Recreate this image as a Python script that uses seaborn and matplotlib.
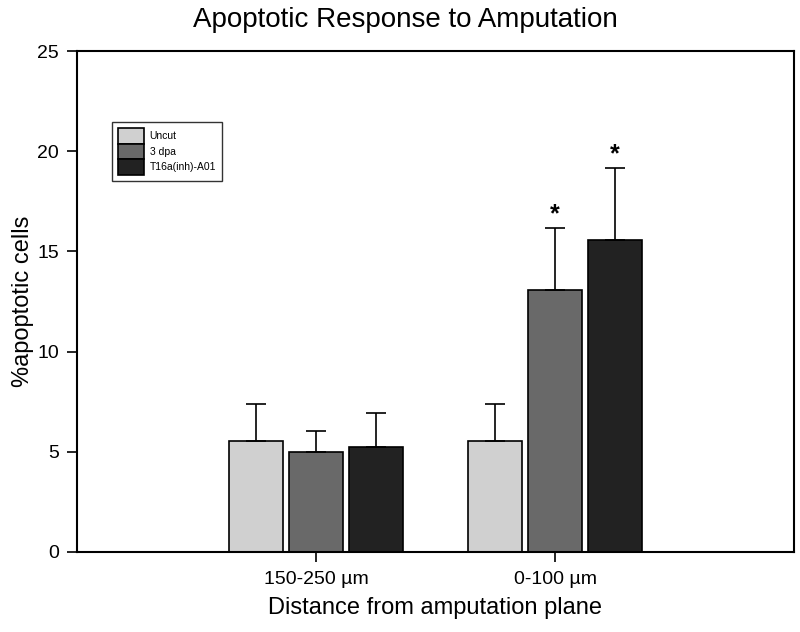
import matplotlib
matplotlib.use("Agg")
import matplotlib.pyplot as plt
import seaborn as sns
import pandas as pd
import numpy as np

groups = ["150-250 µm", "0-100 µm"]
series = ["Uncut", "3 dpa", "T16a(inh)-A01"]
uncut = [5.55, 5.55]
dpa3 = [5.0, 13.05]
t16a = [5.25, 15.55]
uncut_err = [1.85, 1.85]
dpa3_err = [1.05, 3.1]
t16a_err = [1.7, 3.6]
colors = ["#d0d0d0", "#696969", "#222222"]
stars = [[False, False], [False, True], [False, True]]  # per series, per group

rows = []
for s, vals, errs in zip(series, [uncut, dpa3, t16a], [uncut_err, dpa3_err, t16a_err]):
    for g, v, e in zip(groups, vals, errs):
        rows.append({"group": g, "series": s, "value": v, "err": e})
df = pd.DataFrame(rows)

sns.set_style("ticks")
plt.rcParams["font.family"] = ["Liberation Sans", "DejaVu Sans"]
plt.rcParams["text.color"] = "black"
plt.rcParams["axes.labelcolor"] = "black"
plt.rcParams["xtick.color"] = "black"
plt.rcParams["ytick.color"] = "black"

fig = plt.figure(figsize=(8, 6.32), dpi=100)
ax = fig.add_axes([0.09625, 0.1266, 0.89625, 0.7927])

sns.barplot(data=df, x="group", y="value", hue="series", order=groups,
            hue_order=series, palette=colors, width=0.75, gap=0.1,
            edgecolor="black", linewidth=1.2, errorbar=None, ax=ax, saturation=1)

# error bars and stars
bars = [p for p in ax.patches if p.get_height() > 0 and p.get_width() < 0.5]
idx = 0
for si, s in enumerate(series):
    for gi, g in enumerate(groups):
        p = bars[idx]; idx += 1
        xc = p.get_x() + p.get_width() / 2
        h = p.get_height()
        e = df[(df.series == s) & (df.group == g)].err.values[0]
        ax.errorbar([xc], [h], yerr=[[0], [e]], fmt="none", ecolor="black",
                    elinewidth=1.2, capsize=7, capthick=1.2, zorder=1)
        if stars[si][gi]:
            ax.text(xc, h + e + 0.1, "*", ha="center", va="bottom",
                    fontsize=18, fontweight="bold")

ax.set_xlim(-1, 2)
ax.set_ylim(0, 25)
ax.set_yticks([0, 5, 10, 15, 20, 25])
ax.tick_params(axis="both", labelsize=14, length=7, width=1.2, colors="black")
ax.tick_params(axis="x", pad=7)
ax.tick_params(axis="y", pad=6)
for sp in ax.spines.values():
    sp.set_visible(True)
    sp.set_color("black")
    sp.set_linewidth(1.5)

ax.set_title("Apoptotic Response to Amputation", fontsize=20, pad=17,
             x=(405 - 77) / 717)
ax.set_xlabel("Distance from amputation plane", fontsize=17, labelpad=6)
ax.set_ylabel("%apoptotic cells", fontsize=17, labelpad=2)

leg = ax.legend(loc="upper left", bbox_to_anchor=(0.049, 0.858), borderaxespad=0,
                fontsize=7.5, handlelength=2.5, handleheight=1.9, labelspacing=0,
                handletextpad=0.5, fancybox=False, frameon=True, borderpad=0.6,
                title=None)
leg.get_frame().set_edgecolor("black")
leg.get_frame().set_linewidth(1.0)

fig.savefig("out.png", dpi=100)
